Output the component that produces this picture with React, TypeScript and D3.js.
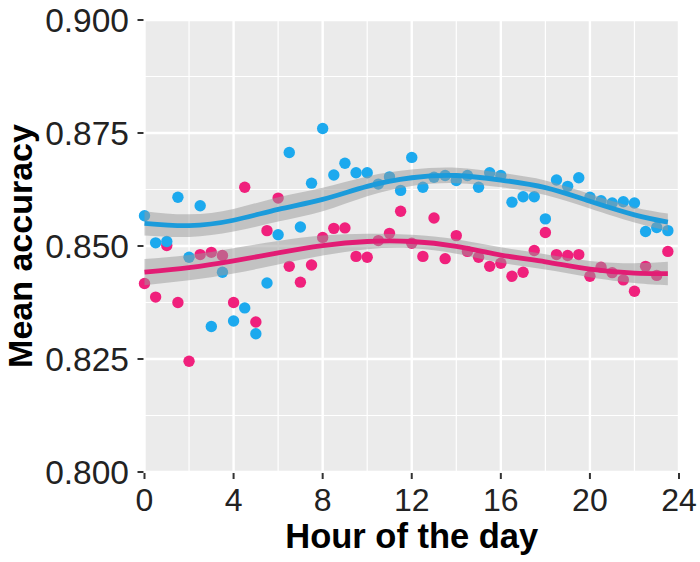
import React from 'react';
import * as d3 from 'd3';

// half-hour bins
const hours = [
  0, 0.5, 1, 1.5, 2, 2.5, 3, 3.5, 4, 4.5, 5, 5.5, 6, 6.5, 7, 7.5, 8, 8.5, 9, 9.5, 10, 10.5, 11, 11.5,
  12, 12.5, 13, 13.5, 14, 14.5, 15, 15.5, 16, 16.5, 17, 17.5, 18, 18.5, 19, 19.5, 20, 20.5, 21, 21.5,
  22, 22.5, 23, 23.5,
];

const blueValues = [
  0.8567, 0.8507, 0.851, 0.8608, 0.8475, 0.8589, 0.8322, 0.8442, 0.8334, 0.8363, 0.8306, 0.8418,
  0.8525, 0.8707, 0.8542, 0.8639, 0.876, 0.8657, 0.8683, 0.8662, 0.8662, 0.8637, 0.8653, 0.8623,
  0.8696, 0.863, 0.8652, 0.8656, 0.8645, 0.8656, 0.863, 0.8662, 0.8656, 0.8597, 0.8609, 0.8609,
  0.856, 0.8646, 0.8632, 0.8651, 0.8608, 0.86, 0.8595, 0.8598, 0.8595, 0.8532, 0.8541, 0.8534,
];

const pinkValues = [
  0.8417, 0.8387, 0.8501, 0.8375, 0.8245, 0.8481, 0.8486, 0.8479, 0.8375, 0.863, 0.8332, 0.8534,
  0.8606, 0.8455, 0.842, 0.8458, 0.8519, 0.8539, 0.854, 0.8477, 0.8475, 0.8512, 0.8528, 0.8577,
  0.8506, 0.8477, 0.8562, 0.8472, 0.8523, 0.8488, 0.8475, 0.8455, 0.8462, 0.8433, 0.8442, 0.849,
  0.853, 0.8481, 0.8479, 0.8481, 0.8433, 0.8453, 0.8441, 0.8425, 0.84, 0.8455, 0.8435, 0.8488,
];

// fitted smooth + 95% CI half-width
const fitHours = [0, 2, 4, 6, 8, 10, 12, 14, 16, 18, 20, 22, 23.5];
const blueFit = [0.855, 0.8545, 0.8557, 0.8581, 0.8603, 0.8632, 0.8651, 0.8656, 0.8646, 0.8629, 0.8599, 0.8569, 0.8553];
const blueCI = [0.0027, 0.0025, 0.0025, 0.0027, 0.0026, 0.0022, 0.0018, 0.0017, 0.0016, 0.0016, 0.0016, 0.0017, 0.0019];
const pinkFit = [0.8442, 0.8452, 0.8467, 0.8485, 0.8501, 0.851, 0.851, 0.8499, 0.848, 0.8465, 0.8449, 0.844, 0.8439];
const pinkCI = [0.0029, 0.0028, 0.0028, 0.0026, 0.0022, 0.0017, 0.0015, 0.0016, 0.0017, 0.0017, 0.0018, 0.0022, 0.0026];

const xTicks = [0, 4, 8, 12, 16, 20, 24];
const yTicks = [0.8, 0.825, 0.85, 0.875, 0.9];
const xMinor = [2, 6, 10, 14, 18, 22];
const yMinor = [0.8125, 0.8375, 0.8625, 0.8875];

const series = [
  { name: 'pink', values: pinkValues, fit: pinkFit, ci: pinkCI, point: '#F0207C', line: '#E21C74' },
  { name: 'blue', values: blueValues, fit: blueFit, ci: blueCI, point: '#1CA9EE', line: '#1B9BDB' },
];

const W = 700;
const H = 562;
const FONT = '"Liberation Sans", Arial, sans-serif';

const App: React.FC = () => {
  const x = d3.scaleLinear().domain([0, 24]).range([144.5, 679]);
  const y = d3.scaleLinear().domain([0.8, 0.9]).range([472, 20]);

  const line = d3
    .line<number>()
    .x((_, i) => x(fitHours[i]))
    .y((d) => y(d))
    .curve(d3.curveNatural);

  const [x0, x1] = x.range();
  const [y0, y1] = y.range();

  return (
    <svg width={W} height={H} style={{ position: 'absolute', left: 0, top: 0 }} fontFamily={FONT}>
      <rect x={0} y={0} width={W} height={H} fill="#ffffff" />
      {/* panel */}
      <rect x={x0} y={y1} width={x1 - x0} height={y0 - y1} fill="#EBEBEB" />
      {yMinor.map((v) => (
        <line key={'ym' + v} x1={x0} x2={x1} y1={y(v)} y2={y(v)} stroke="#fff" strokeWidth={1.2} />
      ))}
      {xMinor.map((v) => (
        <line key={'xm' + v} x1={x(v)} x2={x(v)} y1={y0} y2={y1} stroke="#fff" strokeWidth={1.2} />
      ))}
      {yTicks.map((v) => (
        <line key={'yg' + v} x1={x0} x2={x1} y1={y(v)} y2={y(v)} stroke="#fff" strokeWidth={2.4} />
      ))}
      {xTicks.map((v) => (
        <line key={'xg' + v} x1={x(v)} x2={x(v)} y1={y0} y2={y1} stroke="#fff" strokeWidth={2.4} />
      ))}

      {/* points */}
      {series.map((s) =>
        s.values.map((v, i) => (
          <circle key={s.name + i} cx={x(hours[i])} cy={y(v)} r={5.7} fill={s.point} />
        ))
      )}

      {/* smooths */}
      {series.map((s) => {
        const area = d3
          .area<number>()
          .x((_, i) => x(fitHours[i]))
          .y0((d, i) => y(d - s.ci[i]))
          .y1((d, i) => y(d + s.ci[i]))
          .curve(d3.curveNatural);
        return (
          <g key={'fit' + s.name}>
            <path d={area(s.fit) || ''} fill="#999999" fillOpacity={0.5} />
            <path d={line(s.fit) || ''} fill="none" stroke={s.line} strokeWidth={4.8} />
          </g>
        );
      })}

      {/* axes */}
      {yTicks.map((v) => (
        <g key={'yt' + v}>
          <line x1={x0 - 7} x2={x0 - 1} y1={y(v)} y2={y(v)} stroke="#333" strokeWidth={2} />
          <text x={129} y={y(v)} dy="0.36em" textAnchor="end" fontSize={33.5} fill="#222">
            {d3.format('.3f')(v)}
          </text>
        </g>
      ))}
      {xTicks.map((v) => (
        <g key={'xt' + v}>
          <line x1={x(v)} x2={x(v)} y1={y0 + 1} y2={y0 + 7} stroke="#333" strokeWidth={2} />
          <text x={x(v)} y={511} textAnchor="middle" fontSize={32} fill="#222">
            {v}
          </text>
        </g>
      ))}
      <text x={(x0 + x1) / 2} y={548} textAnchor="middle" fontSize={34.5} fontWeight="bold" fill="#000">
        Hour of the day
      </text>
      <text
        transform={`translate(32, ${(y0 + y1) / 2}) rotate(-90)`}
        textAnchor="middle"
        fontSize={34}
        fontWeight="bold"
        fill="#000"
      >
        Mean accuracy
      </text>
    </svg>
  );
};

export default App;
